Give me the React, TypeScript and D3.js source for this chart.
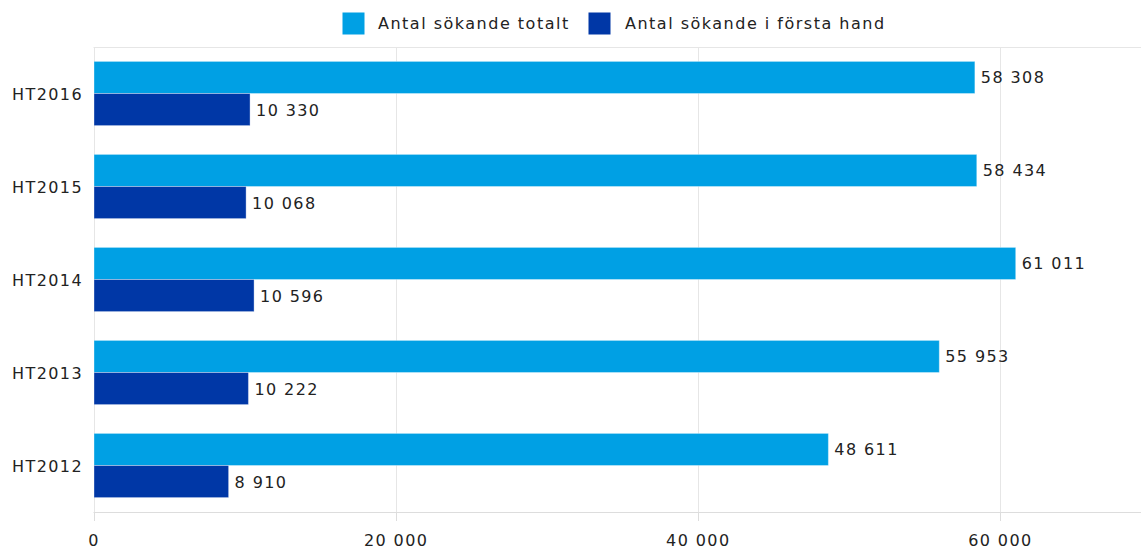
import React from "react";
import * as d3 from "d3";

const categories = ["HT2016", "HT2015", "HT2014", "HT2013", "HT2012"];
const totalt = [58308, 58434, 61011, 55953, 48611];
const forstaHand = [10330, 10068, 10596, 10222, 8910];
const seriesNames = ["Antal sökande totalt", "Antal sökande i första hand"];
const seriesColors = ["#00A0E4", "#0037A6"];
const xTicks = [0, 20000, 40000, 60000];

const W = 1141;
const H = 551;
const FONT = "'DejaVu Sans', Verdana, sans-serif";

const fmt = (v: number) => d3.format(",")(v).replace(/,/g, " ");

export default function App() {
  const x = d3.scaleLinear().domain([0, 70000]).range([94, 1151.5]);
  const y = d3.scaleBand().domain(categories).range([47, 512]).paddingInner(0.31).paddingOuter(0.155);
  const sub = d3.scaleBand().domain(["0", "1"]).range([0, y.bandwidth()]);
  const series = [totalt, forstaHand];

  return (
    <svg width={W} height={H} style={{ position: "absolute", left: 0, top: 0, background: "#fff" }}>
      {/* grid */}
      <line x1={93.5} x2={W} y1={47.5} y2={47.5} stroke="#e6e6e6" strokeWidth={1} />
      {xTicks.map((t) => (
        <line key={t} x1={Math.floor(x(t)) + 0.5} x2={Math.floor(x(t)) + 0.5} y1={47} y2={512} stroke="#e6e6e6" strokeWidth={1} />
      ))}
      {/* bottom axis */}
      <line x1={93.5} x2={W} y1={512.5} y2={512.5} stroke="#ddd" strokeWidth={1} />
      {xTicks.map((t) => (
        <g key={"t" + t}>
          <line x1={Math.floor(x(t)) + 0.5} x2={Math.floor(x(t)) + 0.5} y1={512} y2={521} stroke="#ddd" strokeWidth={1} />
          <text x={x(t)} y={546} textAnchor="middle" fontFamily={FONT} fontSize={16} letterSpacing={1.4} fill="#222">
            {fmt(t)}
          </text>
        </g>
      ))}
      {/* categories */}
      {categories.map((c) => (
        <text key={c} x={83} y={(y(c) as number) + y.bandwidth() / 2 + 6} textAnchor="end" fontFamily={FONT} fontSize={16} letterSpacing={1.4} fill="#222">
          {c}
        </text>
      ))}
      {/* bars */}
      {categories.map((c, i) =>
        series.map((s, k) => {
          const by = (y(c) as number) + (sub(String(k)) as number);
          const bw = x(s[i]) - x(0);
          return (
            <g key={c + k}>
              <rect x={x(0)} y={by} width={bw} height={sub.bandwidth()} fill={seriesColors[k]} stroke="#ffffff" strokeOpacity={0.35} strokeWidth={1} />
              <text x={x(s[i]) + 6} y={by + sub.bandwidth() / 2 + 6} fontFamily={FONT} fontSize={16} letterSpacing={1.4} fill="#222">
                {fmt(s[i])}
              </text>
            </g>
          );
        })
      )}
      {/* legend */}
      <rect x={342.5} y={12.5} width={22} height={22} fill={seriesColors[0]} />
      <text x={378} y={29} fontFamily={FONT} fontSize={16} letterSpacing={1.5} fill="#222">
        {seriesNames[0]}
      </text>
      <rect x={588.5} y={12.5} width={22} height={22} fill={seriesColors[1]} />
      <text x={625} y={29} fontFamily={FONT} fontSize={16} letterSpacing={1.5} fill="#222">
        {seriesNames[1]}
      </text>
    </svg>
  );
}
